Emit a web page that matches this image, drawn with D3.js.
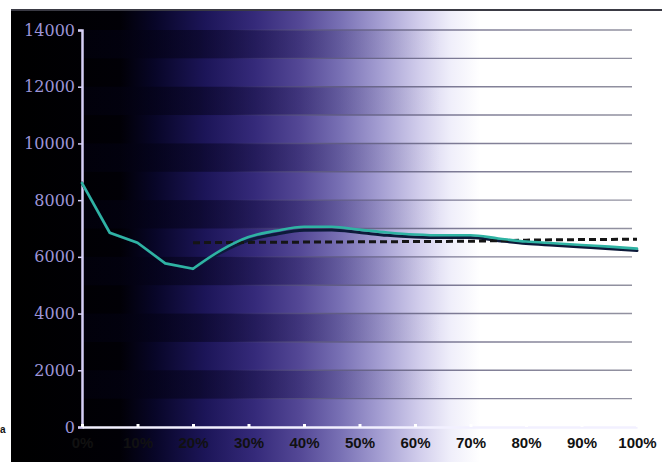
<!DOCTYPE html>
<html>
<head>
<meta charset="utf-8">
<script src="https://cdn.jsdelivr.net/npm/d3@7"></script>
<style>
    body { margin: 0; background: #fff; }
    svg { display: block; }
</style>
</head>
<body>
<div id="chart"></div>
<script>
// x positions (percent) and readings
var percents = [0, 5, 10, 15, 20, 25, 30, 35, 40, 45, 50, 55, 60, 65, 70, 75, 80, 85, 90, 95, 100];
var measured = [8600, 6850, 6500, 5770, 5580, 6230, 6700, 6920, 7060, 7060, 6960, 6860, 6790, 6760, 6760, 6650, 6540, 6480, 6420, 6360, 6290];
var shadow = [8600, 6850, 6500, 5770, 5580, 6150, 6580, 6800, 6940, 6950, 6860, 6760, 6700, 6680, 6680, 6570, 6470, 6410, 6350, 6290, 6220];
var targetPercents = [20, 30, 40, 50, 60, 70, 80, 90, 100];
var target = [6500, 6510, 6520, 6530, 6540, 6550, 6590, 6610, 6620];
var yTicks = [0, 2000, 4000, 6000, 8000, 10000, 12000, 14000];
var xTicks = [0, 10, 20, 30, 40, 50, 60, 70, 80, 90, 100];

var W = 662, H = 462;
var frame = { left: 11, top: 11 };

var svg = d3.select("#chart").append("svg")
    .attr("width", W)
    .attr("height", H);

// scales
var x = d3.scaleLinear().domain([0, 100]).range([82, 637]);
var y = d3.scaleLinear().domain([0, 14000]).range([427, 30]);

var defs = svg.append("defs");

// helper for horizontal gradients laid out in page pixels
function hGradient(id, stops) {
    var g = defs.append("linearGradient")
        .attr("id", id)
        .attr("gradientUnits", "userSpaceOnUse")
        .attr("x1", frame.left).attr("x2", W)
        .attr("y1", 0).attr("y2", 0);
    stops.forEach(function(s) {
        g.append("stop")
            .attr("offset", (s[0] - frame.left) / (W - frame.left))
            .attr("stop-color", s[1])
            .attr("stop-opacity", s[2] == null ? 1 : s[2]);
    });
}

// black -> indigo -> white sweep across the frame
hGradient("sweep", [[11, "#000000"], [120, "#010006"], [155, "#080628"], [205, "#1c1558"],
    [255, "#352a7a"], [300, "#544896"], [340, "#7870b4"], [380, "#a49ed2"],
    [420, "#d2ceec"], [450, "#efeefa"], [480, "#ffffff"], [662, "#ffffff"]]);

// darker bands fade out towards the white side
hGradient("bandFade", [[11, "#000008", 0.7], [200, "#05031a", 0.55], [300, "#120a40", 0.3],
    [380, "#1a1050", 0.12], [440, "#1a1050", 0], [662, "#1a1050", 0]]);

// grid lines only show up once the background gets light
hGradient("gridFade", [[11, "#6e6c88", 0], [230, "#4a4470", 0], [320, "#5e5a80", 0.9], [662, "#8a8a98", 0.9]]);

svg.append("rect")
    .attr("x", frame.left)
    .attr("y", frame.top)
    .attr("width", W - frame.left)
    .attr("height", H - frame.top)
    .attr("fill", "url(#sweep)");

// alternating bands, one per 1000
var bands = d3.range(1000, 14000, 2000);
svg.selectAll(".band")
    .data(bands)
    .enter().append("rect")
    .attr("class", "band")
    .attr("x", 82)
    .attr("y", d => y(d + 1000))
    .attr("width", W - 82)
    .attr("height", d => y(d) - y(d + 1000))
    .attr("fill", "url(#bandFade)");

// grid lines
svg.selectAll(".grid")
    .data(d3.range(1000, 14001, 1000))
    .enter().append("line")
    .attr("class", "grid")
    .attr("x1", 82).attr("x2", 632)
    .attr("y1", d => y(d)).attr("y2", d => y(d))
    .attr("stroke", "url(#gridFade)")
    .attr("stroke-width", 1.4);

// top border of the frame
svg.append("line")
    .attr("x1", frame.left).attr("x2", W)
    .attr("y1", 10).attr("y2", 10)
    .attr("stroke", "#3a3a44")
    .attr("stroke-width", 2);

// y axis
var yAxis = svg.append("g")
    .attr("transform", "translate(82,0)")
    .call(d3.axisLeft(y).tickValues(yTicks).tickSize(4).tickPadding(3).tickFormat(d3.format("d")));
yAxis.select(".domain").attr("stroke", "#d6cff6").attr("stroke-width", 2.5);
yAxis.selectAll(".tick line").attr("stroke", "#d6cff6").attr("stroke-width", 1.5);
yAxis.selectAll("text")
    .attr("fill", "#9d95d8")
    .style("font-family", "'DejaVu Serif', serif")
    .style("font-size", "16px");

// x axis
var xAxis = svg.append("g")
    .attr("transform", "translate(0,427)")
    .call(d3.axisBottom(x).tickValues(xTicks).tickSizeInner(-3).tickSizeOuter(0).tickPadding(10).tickFormat(d => d + "%"));
xAxis.select(".domain").attr("stroke", "#f2f0ff").attr("stroke-width", 2.5);
xAxis.selectAll(".tick line").attr("stroke", "#ffffff").attr("stroke-width", 3);
xAxis.selectAll("text")
    .attr("fill", "#111111")
    .style("font-family", "'Liberation Sans', Arial, sans-serif")
    .style("font-weight", "bold")
    .style("font-size", "15px");

// lines: straight segments down to the dip at 20%, smooth after it
var straight = d3.line()
    .x(d => x(d[0]))
    .y(d => y(d[1]));
var smooth = d3.line()
    .x(d => x(d[0]))
    .y(d => y(d[1]))
    .curve(d3.curveMonotoneX);

function drawSeries(values, color, width) {
    var pts = d3.zip(percents, values);
    var split = percents.indexOf(20);
    [[pts.slice(0, split + 1), straight], [pts.slice(split), smooth]].forEach(function(part) {
        svg.append("path")
            .datum(part[0])
            .attr("fill", "none")
            .attr("stroke", color)
            .attr("stroke-width", width)
            .attr("stroke-linejoin", "round")
            .attr("stroke-linecap", "round")
            .attr("d", part[1]);
    });
}

drawSeries(shadow, "#0d1a3a", 3);

svg.append("path")
    .datum(d3.zip(targetPercents, target))
    .attr("fill", "none")
    .attr("stroke", "#151515")
    .attr("stroke-width", 3)
    .attr("stroke-dasharray", "7,4")
    .attr("d", straight);

drawSeries(measured, "#2fb3a3", 2.6);

// caption letter on the left edge
svg.append("text")
    .attr("x", 0)
    .attr("y", 433)
    .style("font-family", "'Liberation Sans', Arial, sans-serif")
    .style("font-weight", "bold")
    .style("font-size", "10px")
    .attr("fill", "#111")
    .text("a");
</script>
</body>
</html>
